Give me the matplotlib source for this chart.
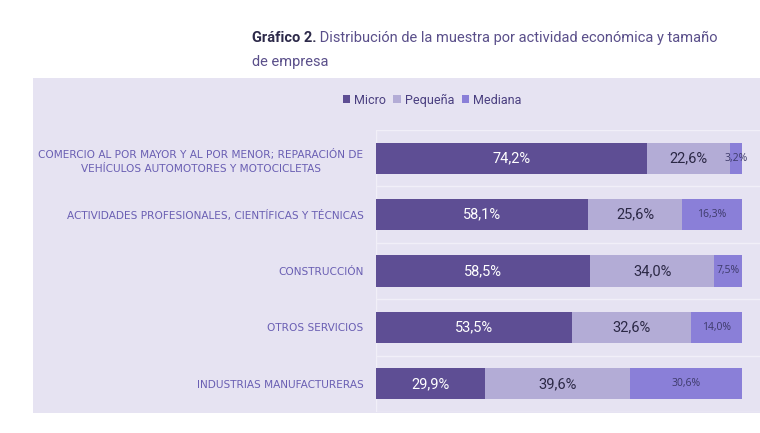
import matplotlib.pyplot as plt
from matplotlib.patches import Rectangle
import numpy as np

categories = [
    "COMERCIO AL POR MAYOR Y AL POR MENOR; REPARACIÓN DE\nVEHÍCULOS AUTOMOTORES Y MOTOCICLETAS",
    "ACTIVIDADES PROFESIONALES, CIENTÍFICAS Y TÉCNICAS",
    "CONSTRUCCIÓN",
    "OTROS SERVICIOS",
    "INDUSTRIAS MANUFACTURERAS",
]
micro = [74.2, 58.1, 58.5, 53.5, 29.9]
pequena = [22.6, 25.6, 34.0, 32.6, 39.6]
mediana = [3.2, 16.3, 7.5, 14.0, 30.6]
series_names = ["Micro", "Pequeña", "Mediana"]

bg = "#e6e3f2"
colors = ["#5e4e94", "#b3acd6", "#8a7fd8"]
narrow = ["Roboto", "DejaVu Sans"]

fig = plt.figure(figsize=(7.6, 4.33), dpi=100)
fig.patch.set_facecolor("white")
fig.patches.append(Rectangle((33 / 760, 1 - 413 / 433), 1 - 33 / 760, (413 - 78) / 433,
                             transform=fig.transFigure, facecolor=bg, edgecolor="none", zorder=-5))

ax = fig.add_axes([376 / 760, 1 - 412 / 433, 1 - 376 / 760, (412 - 130) / 433])
ax.set_facecolor(bg)
y = np.arange(len(categories))

left = np.zeros(len(categories))
for vals, c, name in zip([micro, pequena, mediana], colors, series_names):
    ax.barh(y, vals, left=left, height=0.55, color=c, label=name, zorder=3)
    left = left + np.array(vals)

# value labels
for i in range(len(categories)):
    ax.text(micro[i] / 2, i, f"{micro[i]:.1f}%".replace(".", ","), ha="center", va="center",
            color="white", fontsize=10.5, family=narrow, zorder=4)
    ax.text(micro[i] + pequena[i] / 2, i, f"{pequena[i]:.1f}%".replace(".", ","), ha="center",
            va="center", color="#2b2845", fontsize=10.5, family=narrow, zorder=4)
    ax.text(micro[i] + pequena[i] + mediana[i] / 2, i, f"{mediana[i]:.1f}%".replace(".", ","),
            ha="center", va="center", color="#3d3a6a", fontsize=7.5, family=["Open Sans", "DejaVu Sans"],
            zorder=4)

for b in np.arange(-0.5, len(categories), 1.0):
    ax.axhline(b, color="#f1eff8", lw=1, zorder=1)
ax.axvline(0, color="#f1eff8", lw=1, zorder=1)

ax.set_xlim(0, 105)
ax.set_ylim(len(categories) - 0.5, -0.5)
ax.set_xticks([])
ax.set_yticks(y)
ax.set_yticklabels(categories, fontsize=7.6, color="#6a5fb3", multialignment="center")
for lab in ax.get_yticklabels():
    lab.set_linespacing(1.55)
ax.tick_params(axis="y", length=0, pad=9)
for s in ax.spines.values():
    s.set_visible(False)

leg = fig.legend(loc="center", bbox_to_anchor=(432 / 760, 1 - 100 / 433), ncol=3, frameon=False,
                 handlelength=0.6, handleheight=0.6, handletextpad=0.3, columnspacing=0.6,
                 prop={"family": narrow, "size": 9})
for t in leg.get_texts():
    t.set_color("#4a3f80")

t1 = fig.text(252 / 760, 1 - 38 / 433, "Gráfico 2.", fontsize=10.5, fontweight="bold",
              color="#2d2a4a", family=narrow, va="center")
ax.annotate(" Distribución de la muestra por actividad económica y tamaño", xy=(1, 0.5),
            xycoords=t1, va="center", fontsize=10.5, color="#5a4f8a", family=narrow,
            annotation_clip=False)
fig.text(252 / 760, 1 - 62 / 433, "de empresa", fontsize=10.5, color="#5a4f8a", family=narrow,
         va="center")

plt.savefig("out.png", dpi=100, facecolor=fig.get_facecolor())
